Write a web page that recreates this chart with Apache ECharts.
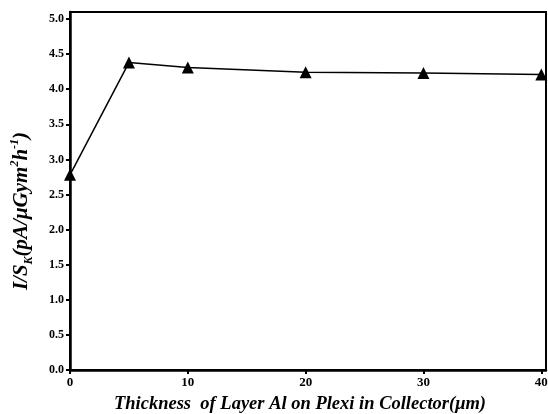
<!DOCTYPE html>
<html>
<head>
<meta charset="utf-8">
<script src="https://cdn.jsdelivr.net/npm/echarts@6/dist/echarts.min.js"></script>
<style>
html, body { margin: 0; padding: 0; background: #fff; }
#chart { width: 548px; height: 414px; }
</style>
</head>
<body>
<div id="chart"></div>
<script>
// thickness (um) and I/S values
var thickness = [0, 5, 10, 20, 30, 40];
var ratio = [2.78, 4.38, 4.31, 4.24, 4.23, 4.21];
var xTicks = [0, 10, 20, 30, 40];
var yTicks = [0, 0.5, 1, 1.5, 2, 2.5, 3, 3.5, 4, 4.5, 5];

var serif = "Liberation Serif";
var points = [];
for (var i = 0; i < thickness.length; i++) {
	points.push([thickness[i], ratio[i]]);
}

var myChart = echarts.init(document.getElementById('chart'));
var option = {
	animation: false,
	backgroundColor: '#fff',
	grid: {
		left: 70, right: 2, top: 12, bottom: 44,
		outerBoundsMode: 'none',
		show: true, borderColor: '#000', borderWidth: 2
	},
	xAxis: {
		type: 'value', min: 0, max: 40.4,
		name: 'Thickness  of Layer Al on Plexi in Collector(\u03bcm)',
		nameLocation: 'middle', nameGap: 25,
		nameTextStyle: { fontFamily: serif, fontWeight: 'bold', fontStyle: 'italic', fontSize: 18.5, color: '#000', padding: [0, 16, 0, 0] },
		axisLine: { lineStyle: { color: '#000', width: 2.5 } },
		axisTick: { length: 4, lineStyle: { color: '#000', width: 2 }, customValues: xTicks },
		axisLabel: { fontFamily: serif, fontWeight: 'bold', fontSize: 13, color: '#000', margin: 6, customValues: xTicks },
		splitLine: { show: false }
	},
	yAxis: {
		type: 'value', min: 0, max: 5.1,
		name: '{m|I/S}{sub|K}{m|(pA/\u03bcGym}{sup|2}{m|h}{sup|-1}{m|)}',
		nameLocation: 'middle', nameGap: 35,
		nameTextStyle: {
			color: '#000',
			padding: [0, 40, 0, 0],
			rich: {
				m: { fontFamily: serif, fontWeight: 'bold', fontStyle: 'italic', fontSize: 21, lineHeight: 26, color: '#000' },
				sub: { fontFamily: serif, fontWeight: 'bold', fontStyle: 'italic', fontSize: 12, verticalAlign: 'bottom', color: '#000' },
				sup: { fontFamily: serif, fontWeight: 'bold', fontStyle: 'italic', fontSize: 12, verticalAlign: 'top', color: '#000' }
			}
		},
		axisLine: { lineStyle: { color: '#000', width: 2.5 } },
		axisTick: { length: 4, lineStyle: { color: '#000', width: 2 }, customValues: yTicks },
		axisLabel: {
			fontFamily: serif, fontWeight: 'bold', fontSize: 12, color: '#000', margin: 6,
			customValues: yTicks,
			formatter: function (v) { return v.toFixed(1); }
		},
		splitLine: { show: false }
	},
	series: [{
		type: 'line',
		data: points,
		symbol: 'triangle',
		symbolSize: 12,
		clip: false,
		lineStyle: { color: '#000', width: 1.5 },
		itemStyle: { color: '#000' }
	}]
};
myChart.setOption(option);
</script>
</body>
</html>
